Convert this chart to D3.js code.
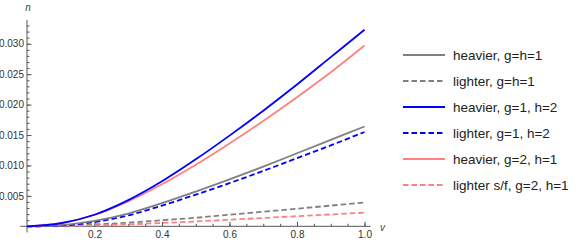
<!DOCTYPE html>
<html><head><meta charset="utf-8">
<script src="https://cdn.jsdelivr.net/npm/d3@7"></script>
<style>
body{margin:0;background:#fff;}
text{font-family:"Liberation Sans",Arial,sans-serif;}
</style></head>
<body><svg id="c" width="581" height="242"></svg>
<script>
const vValues = [0,0.1,0.2,0.3,0.4,0.5,0.6,0.7,0.8,0.9,1.0];
const heavierGH1 = [0,0.0002,0.0009,0.0021,0.0038,0.0057,0.0077,0.0098,0.0120,0.0142,0.0164];
const lighterGH1 = [0,0.0001,0.0003,0.0006,0.0010,0.0014,0.0019,0.0024,0.0029,0.0034,0.0039];
const heavierG1H2 = [0,0.0005,0.0019,0.0043,0.0074,0.0110,0.0149,0.0190,0.0233,0.0278,0.0323];
const lighterG1H2 = [0,0.0001,0.0007,0.0018,0.0034,0.0052,0.0071,0.0091,0.0112,0.0133,0.0155];
const heavierG2H1 = [0,0.0005,0.0019,0.0041,0.0069,0.0101,0.0136,0.0173,0.0212,0.0253,0.0297];
const lighterG2H1 = [0,0.00004,0.00015,0.00032,0.00055,0.0008,0.00108,0.00137,0.00166,0.00195,0.00224];
const seriesNames = ["heavier, g=h=1","lighter, g=h=1","heavier, g=1, h=2","lighter, g=1, h=2","heavier, g=2, h=1","lighter s/f, g=2, h=1"];
const xTicks = [0.2,0.4,0.6,0.8,1.0];
const yTicks = [0.005,0.010,0.015,0.020,0.025,0.030];

const series = [
  {name:seriesNames[0], values:heavierGH1, color:"#808080", dash:null},
  {name:seriesNames[1], values:lighterGH1, color:"#808080", dash:"5.5,3"},
  {name:seriesNames[2], values:heavierG1H2, color:"#0000ff", dash:null},
  {name:seriesNames[3], values:lighterG1H2, color:"#0000ff", dash:"5.5,3"},
  {name:seriesNames[4], values:heavierG2H1, color:"#ff8080", dash:null},
  {name:seriesNames[5], values:lighterG2H1, color:"#ff8080", dash:"5.5,3"}
];

const svg = d3.select("#c");
const x = d3.scaleLinear().domain([0,1]).range([27,364.5]);
const y = d3.scaleLinear().domain([0,0.0339]).range([226.3,20]);
const axisColor = "#555";

const xMinor = d3.range(0.05,1.0001,0.05);
const yMinor = d3.range(0.001,0.0335,0.001);
svg.append("g").attr("transform",`translate(0,${y(0)})`)
  .call(d3.axisBottom(x).tickValues(xMinor).tickSize(-2.5).tickFormat(""))
  .call(g=>g.select(".domain").remove())
  .call(g=>g.selectAll("line").attr("stroke",axisColor));
svg.append("g").attr("transform",`translate(${x(0)},0)`)
  .call(d3.axisLeft(y).tickValues(yMinor).tickSize(-2.5).tickFormat(""))
  .call(g=>g.select(".domain").remove())
  .call(g=>g.selectAll("line").attr("stroke",axisColor));
svg.append("g").attr("transform",`translate(0,${y(0)})`)
  .call(d3.axisBottom(x).tickValues(xTicks).tickSize(-4.5).tickPadding(5).tickFormat(d3.format(".1f")))
  .call(g=>g.select(".domain").remove())
  .call(g=>g.selectAll("line").attr("stroke",axisColor))
  .call(g=>g.selectAll("text").attr("fill","#333").attr("font-size","10px").attr("font-family","Liberation Sans, Arial, sans-serif"));
svg.append("g").attr("transform",`translate(${x(0)},0)`)
  .call(d3.axisLeft(y).tickValues(yTicks).tickSize(-4.5).tickPadding(3).tickFormat(d3.format(".3f")))
  .call(g=>g.select(".domain").remove())
  .call(g=>g.selectAll("line").attr("stroke",axisColor))
  .call(g=>g.selectAll("text").attr("fill","#333").attr("font-size","10px").attr("font-family","Liberation Sans, Arial, sans-serif"));
svg.append("line").attr("x1",x(-0.02)).attr("x2",x(1.018)).attr("y1",y(0)).attr("y2",y(0)).attr("stroke",axisColor);
svg.append("line").attr("x1",x(0)).attr("x2",x(0)).attr("y1",y(0.0339)).attr("y2",y(-0.001)).attr("stroke",axisColor);
svg.append("text").attr("x",x(0)+1).attr("y",11).attr("text-anchor","middle").attr("font-size","10px").attr("font-style","italic").attr("fill","#444").text("n");
svg.append("text").attr("x",x(1)+18).attr("y",y(0)+5).attr("text-anchor","middle").attr("font-size","10px").attr("font-style","italic").attr("fill","#444").text("v");

const line = d3.line().x((d,i)=>x(vValues[i])).y(d=>y(d)).curve(d3.curveCatmullRom.alpha(0.5));
const plot = svg.append("g");
[1,5,3,0,4,2].forEach(k=>{
  const s = series[k];
  plot.append("path").attr("d",line(s.values)).attr("fill","none")
    .attr("stroke",s.color).attr("stroke-width",1.8)
    .attr("stroke-dasharray",s.dash);
});

const leg = svg.append("g");
series.forEach((s,i)=>{
  const ly = 55 + i*26;
  leg.append("line").attr("x1",403).attr("x2",445).attr("y1",ly).attr("y2",ly)
    .attr("stroke",s.color).attr("stroke-width",1.8).attr("stroke-dasharray",s.dash);
  leg.append("text").attr("x",453).attr("y",ly+4.5).attr("font-size","13.5px").attr("fill","#222").text(s.name);
});
</script></body></html>
